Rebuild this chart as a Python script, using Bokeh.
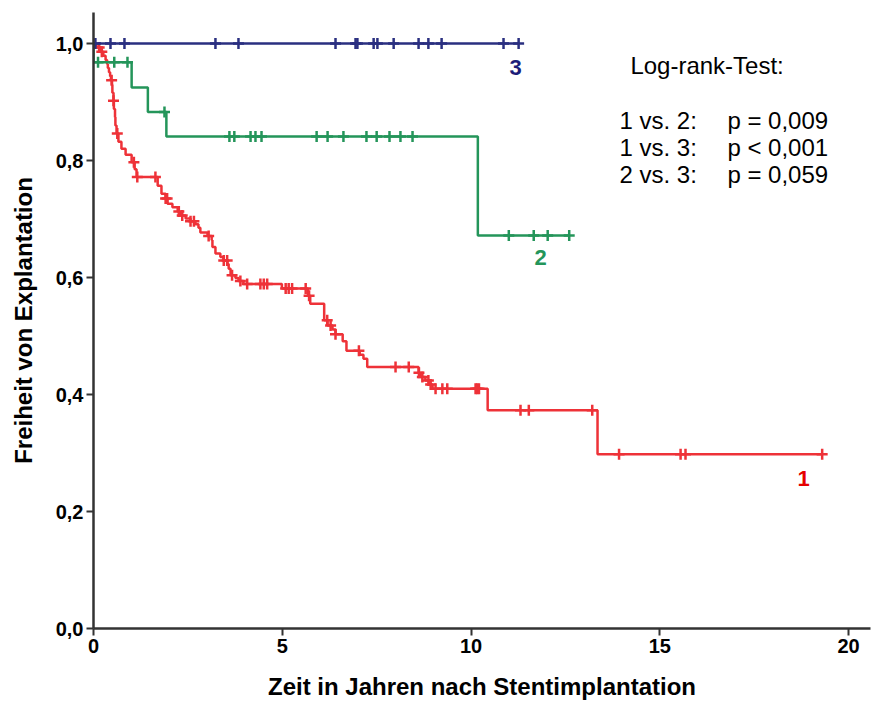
import numpy as np
from bokeh.plotting import figure
from bokeh.models import FixedTicker, CustomJSTickFormatter, Range1d
from bokeh.core.properties import value
from bokeh.embed import file_html
from bokeh.resources import INLINE

# ---- Kaplan-Meier data (time in years, survival after each event) ----
# Group 1
g1_event_t = [0.08, 0.19, 0.26, 0.32, 0.36, 0.38, 0.41, 0.44, 0.46, 0.49, 0.50, 0.53,
              0.54, 0.57, 0.58, 0.61, 0.66, 0.74, 0.85, 1.01, 1.09, 1.14, 1.70, 1.80,
              1.91, 1.96, 2.09, 2.23, 2.30, 2.44, 2.57, 2.70, 2.78, 2.83, 3.02, 3.13,
              3.15, 3.23, 3.36, 3.44, 3.55, 3.58, 3.63, 3.76, 3.84, 3.97, 4.99, 5.68,
              5.74, 6.11, 6.20, 6.33, 6.41, 6.60, 6.70, 7.05, 7.15, 7.25, 8.61, 8.66,
              8.79, 8.90, 8.98, 10.44, 13.35]
g1_event_s = [0.993, 0.986, 0.979, 0.972, 0.965, 0.958, 0.951, 0.944, 0.937, 0.930, 0.916, 0.902,
              0.888, 0.874, 0.860, 0.846, 0.832, 0.820, 0.810, 0.797, 0.785, 0.772, 0.757, 0.743,
              0.735, 0.726, 0.720, 0.713, 0.706, 0.701, 0.696, 0.691, 0.685, 0.677, 0.671, 0.664,
              0.652, 0.641, 0.635, 0.629, 0.623, 0.615, 0.604, 0.599, 0.594, 0.589, 0.581, 0.569,
              0.555, 0.527, 0.518, 0.511, 0.503, 0.491, 0.475, 0.468, 0.461, 0.447, 0.437, 0.430,
              0.424, 0.417, 0.410, 0.373, 0.298]
g1_censored = [0.15, 0.22, 0.48, 0.53, 0.63, 1.07, 1.16, 1.64, 1.91, 1.95, 2.26, 2.35,
               2.57, 2.66, 3.05, 3.45, 3.54, 3.67, 3.89, 4.07, 4.42, 4.51, 4.60, 5.09,
               5.17, 5.26, 5.62, 5.71, 6.19, 6.28, 6.41, 7.03, 8.00, 8.35, 8.62, 8.71,
               8.87, 8.93, 9.06, 9.24, 9.37, 10.12, 10.16, 10.21, 11.31, 11.53, 13.21,
               13.92, 15.55, 15.68, 19.30]

# Group 2
g2_event_t = [0.0, 1.01, 1.44, 1.93, 10.18]
g2_event_s = [0.968, 0.925, 0.883, 0.841, 0.672]
g2_censored = [0.12, 0.55, 0.90, 1.88, 3.60, 3.73, 4.16, 4.29, 4.45, 5.91, 6.20, 6.62,
               7.23, 7.50, 7.84, 8.13, 8.45, 11.00, 11.66, 12.03, 12.60]

# Group 3 (no events)
g3_event_t = []
g3_event_s = []
g3_censored = [0.05, 0.45, 0.82, 3.23, 3.84, 6.41, 6.94, 6.99, 7.42, 7.52, 7.95,
               8.61, 8.87, 9.22, 10.86, 11.26]

x_ticks = [0, 5, 10, 15, 20]
y_ticks = [0.0, 0.2, 0.4, 0.6, 0.8, 1.0]

test_rows = ["1 vs. 2:", "1 vs. 3:", "2 vs. 3:"]
test_p = ["p = 0,009", "p < 0,001", "p = 0,059"]

RED = "#ee3238"
GREEN = "#24955a"
NAVY = "#2a2f80"
FONT = "Liberation Sans"


def km_path(times, surv, censored):
    end = max(censored + list(times))
    xs = [0.0] + list(times) + [end]
    ys = [1.0] + list(surv) + [surv[-1] if surv else 1.0]
    return xs, ys


def surv_at(times, surv, t):
    idx = np.searchsorted(np.array(times, dtype=float), t, side="right") - 1
    return 1.0 if idx < 0 else surv[idx]


p = figure(width=875, height=704, output_backend="svg", toolbar_location=None,
           x_range=Range1d(0, 20.58), y_range=Range1d(0, 1.053),
           min_border_left=93, min_border_right=5, min_border_top=12, min_border_bottom=76)
p.outline_line_color = None
p.xgrid.visible = False
p.ygrid.visible = False

for times, surv, cens, col in [(g1_event_t, g1_event_s, g1_censored, RED),
                               (g2_event_t, g2_event_s, g2_censored, GREEN),
                               (g3_event_t, g3_event_s, g3_censored, NAVY)]:
    xs, ys = km_path(times, surv, cens)
    p.step(xs, ys, mode="after", line_color=col, line_width=2.5)
    cy = [surv_at(times, surv, c) for c in cens]
    p.scatter(cens, cy, marker="cross", size=11, line_color=col, line_width=2.5)

# curve labels
lbl = dict(text_font=value(FONT), text_font_style="bold", text_font_size="22px",
           text_align="center", text_baseline="middle")
p.text(x=[18.81], y=[0.256], text=["1"], text_color="#e60000", **lbl)
p.text(x=[11.84], y=[0.634], text=["2"], text_color=GREEN, **lbl)
p.text(x=[11.18], y=[0.959], text=["3"], text_color="#1c1c78", **lbl)

# log-rank box
box = dict(text_color="black", text_font=value(FONT), text_font_size="24px",
           text_baseline="middle")
p.text(x=[14.22], y=[0.962], text=["Log-rank-Test:"], **box)
p.text(x=[13.93] * 3, y=[0.868, 0.822, 0.776], text=test_rows, **box)
p.text(x=[16.79] * 3, y=[0.868, 0.822, 0.776], text=test_p, **box)

AX = "#333333"
for ax in (p.xaxis[0], p.yaxis[0]):
    ax.axis_line_color = AX
    ax.axis_line_width = 2.5
    ax.major_tick_line_color = AX
    ax.major_tick_line_width = 2
    ax.major_tick_in = 0
    ax.major_tick_out = 7
    ax.minor_tick_line_color = None
    ax.major_label_text_font = FONT
    ax.major_label_text_font_style = "bold"
    ax.major_label_text_font_size = "20px"
    ax.major_label_text_color = "black"
    ax.axis_label_text_font = FONT
    ax.axis_label_text_font_style = "bold"
    ax.axis_label_text_font_size = "24px"
    ax.axis_label_text_color = "black"

p.xaxis.ticker = FixedTicker(ticks=x_ticks)
p.yaxis.ticker = FixedTicker(ticks=y_ticks)
p.xaxis.formatter = CustomJSTickFormatter(code="return tick.toFixed(0);")
p.yaxis.formatter = CustomJSTickFormatter(code="return tick.toFixed(1).replace('.', ',');")
p.xaxis.major_label_standoff = 3
p.yaxis.major_label_standoff = 3
p.xaxis.axis_label = "Zeit in Jahren nach Stentimplantation"
p.yaxis.axis_label = "Freiheit von Explantation"
p.xaxis.axis_label_standoff = 17
p.yaxis.axis_label_standoff = 16

open("out.html", "w").write(file_html(p, INLINE))
